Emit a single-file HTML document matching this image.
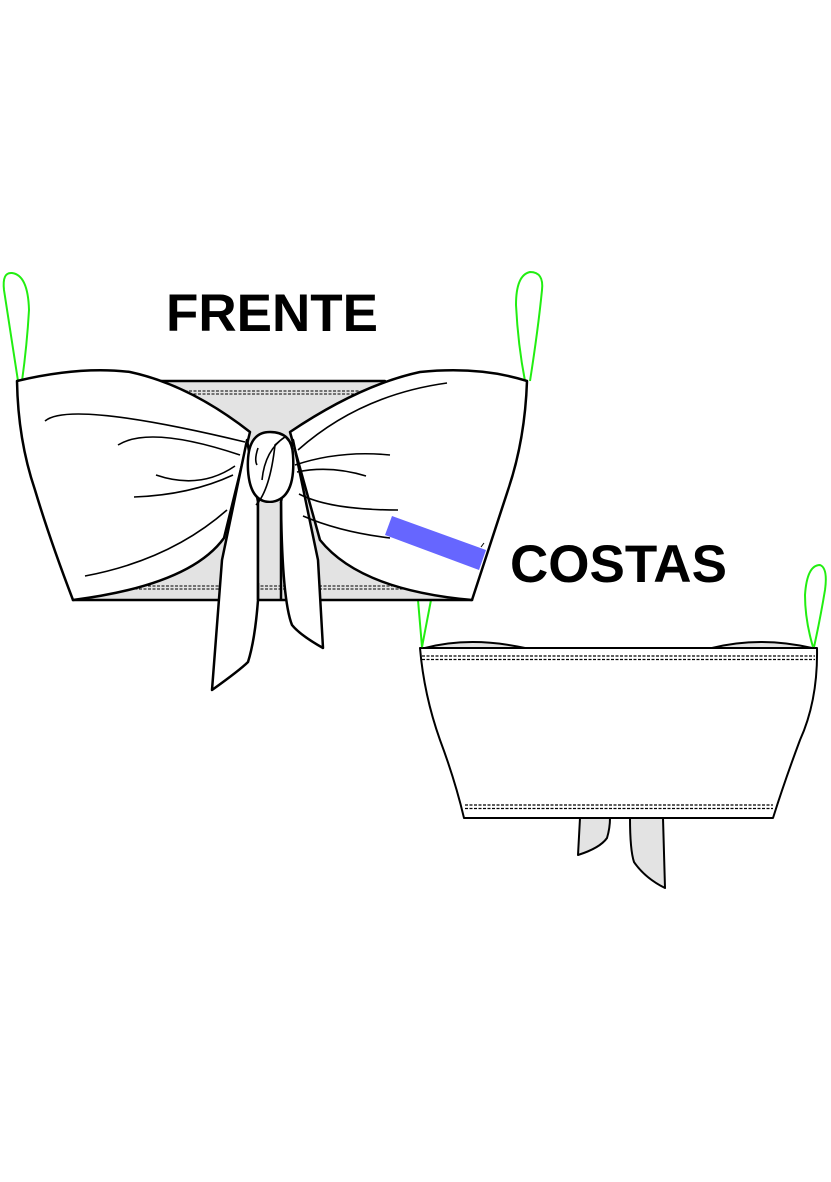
<!DOCTYPE html>
<html><head><meta charset="utf-8"><style>html,body{margin:0;padding:0;background:#fff}svg{display:block}</style></head><body>
<svg width="831" height="1182" viewBox="0 0 831 1182" xmlns="http://www.w3.org/2000/svg">
<rect width="831" height="1182" fill="#fff"/>
<!-- BACK -->
<g stroke="#000" stroke-width="2" stroke-linejoin="round">
<path d="M425,648 Q470,636 525,648 Z" fill="#e3e3e3"/>
<path d="M712,648 Q760,636 812,648 Z" fill="#e3e3e3"/>
<path d="M580,818 L578,855 Q600,848 607,838 Q610,828 610,818 Z" fill="#e3e3e3"/>
<path d="M630,818 Q630,850 634,862 Q645,878 665,888 L663,818 Z" fill="#e3e3e3"/>
<path d="M420,648 L817,648 Q818,700 800,740 Q785,780 773,818 L464,818 Q455,780 440,740 Q424,695 420,648 Z" fill="#fff"/>
</g>
<g stroke="#000" stroke-width="1.2" stroke-dasharray="3,1.5" fill="none">
<line x1="422" y1="656" x2="815" y2="656"/><line x1="422" y1="659.5" x2="815" y2="659.5"/>
<line x1="465" y1="805" x2="773" y2="805"/><line x1="465" y1="808.5" x2="773" y2="808.5"/>
</g>
<g stroke="#22ee11" stroke-width="2" fill="none">
<path d="M418,600 L422,647 L431,600"/>
<path d="M813,647 Q805,620 805,595 Q807,565 820,565 Q828,568 825,590 Q820,620 814,647"/>
</g>
<!-- FRONT -->
<g stroke="#22ee11" stroke-width="2" fill="none">
<path d="M18,381 Q10,330 4,290 Q2,272 12,273 Q28,275 29,310 Q27,345 22,381"/>
<path d="M525,381 Q518,345 516,305 Q516,275 530,272 Q544,272 542,290 Q538,330 530,381"/>
</g>
<polygon points="150,381 385,381 472,600 73,600" fill="#e3e3e3" stroke="#000" stroke-width="2.5" stroke-linejoin="round"/>
<g stroke="#000" stroke-width="1" stroke-dasharray="3,1.5" fill="none">
<line x1="180" y1="391" x2="360" y2="391"/><line x1="180" y1="394" x2="360" y2="394"/>
<line x1="130" y1="586" x2="420" y2="586"/><line x1="130" y1="589" x2="420" y2="589"/>
</g>
<g stroke="#000" stroke-width="2.5" stroke-linejoin="round" fill="#fff">
<path d="M17,381 Q80,366 130,372 Q190,385 250,432 L224,538 Q190,585 73,600 Q50,540 35,490 Q18,440 17,381 Z"/>
<path d="M290,432 Q360,385 420,372 Q480,366 527,381 Q525,440 508,490 Q490,545 472,600 Q360,590 320,540 Z"/>
<path d="M247,440 L222,560 L212,690 Q240,670 248,662 Q255,640 258,600 L258,502 Z"/>
<path d="M293,440 L318,560 L323,648 Q300,635 292,625 Q282,600 281,502 Z"/>
<path d="M270,432 Q292,432 293,455 Q296,500 270,502 Q250,502 248,470 Q246,432 270,432 Z"/>
</g>
<rect x="258" y="503" width="23" height="80" fill="#e3e3e3"/>
<line x1="258" y1="502" x2="258" y2="600" stroke="#000" stroke-width="2.5"/>
<line x1="281" y1="502" x2="281" y2="600" stroke="#000" stroke-width="2.5"/>
<g stroke="#000" stroke-width="1.6" fill="none">
<path d="M45,421 Q70,400 245,442"/>
<path d="M118,445 Q150,425 240,455"/>
<path d="M156,475 Q200,490 235,466"/>
<path d="M134,497 Q190,495 233,475"/>
<path d="M85,576 Q170,560 227,510"/>
<path d="M298,450 Q360,395 447,383"/>
<path d="M295,465 Q340,450 390,455"/>
<path d="M297,472 Q330,465 366,476"/>
<path d="M299,494 Q330,510 398,510"/>
<path d="M303,516 Q340,532 390,538"/>
<path d="M258,448 Q254,460 257,465"/>
<path d="M256,505 Q270,490 275,445 Q284,437 285,437"/>
<path d="M262,480 Q265,450 285,437"/>
</g>
<polygon points="392,516 486,550 479,570 385,535" fill="#6666ff"/>
<path d="M481,547 L484,543" stroke="#000" stroke-width="1"/>
<g font-family="Liberation Sans, sans-serif" font-weight="bold" font-size="53" fill="#000">
<text x="166" y="331">FRENTE</text>
<text x="510" y="582">COSTAS</text>
</g>
</svg>
</body></html>
